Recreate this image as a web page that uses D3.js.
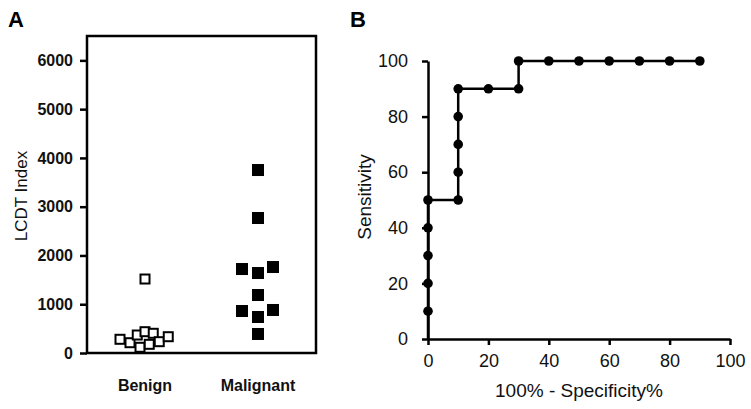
<!DOCTYPE html>
<html>
<head>
<script src="https://d3js.org/d3.v7.min.js"></script>
<style>
  body { margin: 0; background: #fff; }
  svg { font-family: "Liberation Sans", Arial, sans-serif; }
  .axis path, .axis line { stroke: #000; stroke-width: 2.5px; }
  .axis text { fill: #111; }
</style>
</head>
<body>
<script>
// ---- panel A data: LCDT index per group ----
var groups = ["Benign", "Malignant"];
var benignValues = [281, 211, 369, 117, 437, 178, 404, 232, 334, 1517];
var benignSlots = [-1, -0.6, -0.31, -0.2, 0, 0.17, 0.33, 0.57, 0.93, 0];
var malignantValues = [3752, 2768, 1722, 1640, 1763, 1189, 861, 882, 738, 390];
var malignantSlots = [0, 0, -0.64, 0, 0.6, 0, -0.64, 0.6, 0, 0];
var aTicks = [0, 1000, 2000, 3000, 4000, 5000, 6000];

// ---- panel B data: ROC curve ----
var rocX = [0, 0, 0, 0, 0, 0, 10, 10, 10, 10, 10, 20, 30, 30, 40, 50, 60, 70, 80, 90];
var rocY = [0, 10, 20, 30, 40, 50, 50, 60, 70, 80, 90, 90, 90, 100, 100, 100, 100, 100, 100, 100];
var bTicks = [0, 20, 40, 60, 80, 100];

var svg = d3.select("body").append("svg")
  .attr("width", 751).attr("height", 409);

// ================= panel A =================
var ax = d3.scalePoint().domain(groups).range([145, 258]);
var ay = d3.scaleLinear().domain([0, 6500]).range([353, 36]);
var jitter = d3.scaleLinear().domain([-1, 1]).range([-25, 25]);

var gA = svg.append("g");

gA.append("rect")
  .attr("x", 87).attr("y", ay(6500))
  .attr("width", 316 - 87).attr("height", ay(0) - ay(6500))
  .attr("fill", "none").attr("stroke", "#000").attr("stroke-width", 2.5);

var yAxisA = gA.append("g").attr("class", "axis")
  .attr("transform", "translate(87,0)")
  .call(d3.axisLeft(ay).tickValues(aTicks).tickSize(7).tickPadding(7).tickFormat(d3.format("d")));
yAxisA.select(".domain").remove();
yAxisA.selectAll("text").style("font-size", "16px").style("font-weight", "bold");

var benign = benignValues.map(function(v, i) { return { g: "Benign", v: v, s: benignSlots[i] }; });
var malignant = malignantValues.map(function(v, i) { return { g: "Malignant", v: v, s: malignantSlots[i] }; });
var sq = 9;

gA.selectAll(".benign").data(benign).enter().append("rect")
  .attr("class", "benign")
  .attr("x", function(d) { return ax(d.g) + jitter(d.s) - sq / 2; })
  .attr("y", function(d) { return ay(d.v) - sq / 2; })
  .attr("width", sq).attr("height", sq)
  .attr("fill", "#fff").attr("stroke", "#000").attr("stroke-width", 2);

gA.selectAll(".malig").data(malignant).enter().append("rect")
  .attr("class", "malig")
  .attr("x", function(d) { return ax(d.g) + jitter(d.s) - (sq + 3) / 2; })
  .attr("y", function(d) { return ay(d.v) - (sq + 3) / 2; })
  .attr("width", sq + 3).attr("height", sq + 3)
  .attr("fill", "#000");

gA.selectAll(".grp").data(groups).enter().append("text")
  .attr("x", function(d) { return ax(d); }).attr("y", 391)
  .attr("text-anchor", "middle")
  .style("font-size", "16px").style("font-weight", "bold").attr("fill", "#111")
  .text(function(d) { return d; });

gA.append("text")
  .attr("transform", "translate(27,196) rotate(-90)")
  .attr("text-anchor", "middle")
  .style("font-size", "17px").attr("fill", "#111")
  .text("LCDT Index");

gA.append("text").attr("x", 8).attr("y", 27)
  .style("font-size", "22px").style("font-weight", "bold")
  .text("A");

// ================= panel B =================
var bx = d3.scaleLinear().domain([0, 100]).range([428, 730]);
var by = d3.scaleLinear().domain([0, 100]).range([339, 61]);

var gB = svg.append("g");

var xAxisB = gB.append("g").attr("class", "axis")
  .attr("transform", "translate(0,339)")
  .call(d3.axisBottom(bx).tickValues(bTicks).tickSize(6).tickSizeOuter(0).tickPadding(9));
xAxisB.selectAll("text").style("font-size", "18px");

var yAxisB = gB.append("g").attr("class", "axis")
  .attr("transform", "translate(428,0)")
  .call(d3.axisLeft(by).tickValues(bTicks).tickSize(6).tickSizeOuter(0).tickPadding(14));
yAxisB.selectAll("text").style("font-size", "18px");

var roc = rocX.map(function(x, i) { return { x: x, y: rocY[i] }; });

gB.append("path")
  .datum(roc)
  .attr("fill", "none").attr("stroke", "#000").attr("stroke-width", 2.5)
  .attr("d", d3.line().x(function(d) { return bx(d.x); }).y(function(d) { return by(d.y); }));

gB.selectAll(".dot").data(roc.slice(1)).enter().append("circle")
  .attr("class", "dot")
  .attr("cx", function(d) { return bx(d.x); })
  .attr("cy", function(d) { return by(d.y); })
  .attr("r", 4.8).attr("fill", "#000");

gB.append("text")
  .attr("x", 579).attr("y", 397)
  .attr("text-anchor", "middle")
  .style("font-size", "19px").attr("fill", "#111")
  .text("100% - Specificity%");

gB.append("text")
  .attr("transform", "translate(371,197) rotate(-90)")
  .attr("text-anchor", "middle")
  .style("font-size", "19px").attr("fill", "#111")
  .text("Sensitivity");

gB.append("text").attr("x", 350).attr("y", 27)
  .style("font-size", "22px").style("font-weight", "bold")
  .text("B");
</script>
</body>
</html>
